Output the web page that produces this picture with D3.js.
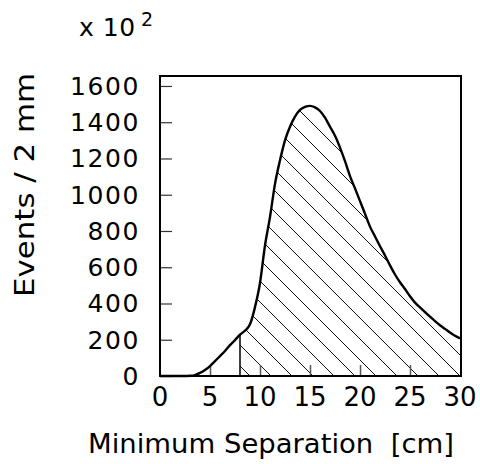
<!DOCTYPE html>
<html>
<head>
<meta charset="utf-8">
<script src="https://cdn.jsdelivr.net/npm/d3@7"></script>
<style>
  html, body { margin: 0; padding: 0; background: #fff; }
  svg { display: block; }
  text { font-family: "DejaVu Sans", sans-serif; fill: #000; }
</style>
</head>
<body>
<svg id="chart" width="480" height="464"></svg>
<script>
// Minimum separation (cm), sampled every 0.5 cm
const separation = [0,0.5,1,1.5,2,2.5,3,3.5,4,4.5,5,5.5,6,6.5,7,7.5,8,8.5,9,9.5,10,
  10.5,11,11.5,12,12.5,13,13.5,14,14.5,15,15.5,16,16.5,17,17.5,18,18.5,19,19.5,20,
  20.5,21,21.5,22,22.5,23,23.5,24,24.5,25,25.5,26,26.5,27,27.5,28,28.5,29,29.5,30];
// Events / 2 mm (in units of 10^2)
const events = [0,0,0,0,0,0,1,5,17,33,55,82,110,138,170,198,228,250,285,380,513,
  720,877,1060,1190,1300,1375,1431,1468,1485,1490,1482,1462,1425,1375,1325,1260,1185,1103,1035,965,
  895,824,770,716,665,610,560,517,480,440,405,378,352,327,303,280,260,240,222,208];
const xTicks = [0,5,10,15,20,25,30];
const yTicks = [0,200,400,600,800,1000,1200,1400,1600];
const cutValue = 8;
const xTitle = "Minimum Separation\u00a0\u00a0[cm]";
const yTitle = "Events / 2 mm";

const data = separation.map((s, i) => ({x: s, y: events[i]}));

const svg = d3.select("#chart");
const x = d3.scaleLinear().domain([0, 30]).range([160, 460]);
const y = d3.scaleLinear().domain([0, 1655]).range([376, 76]);

// hatched region (x >= cut)
const hatchData = data.filter(d => d.x >= cutValue);
const area = d3.area().x(d => x(d.x)).y0(y(0)).y1(d => y(d.y)).curve(d3.curveMonotoneX);
svg.append("clipPath").attr("id", "hclip").append("path").attr("d", area(hatchData));
const hg = svg.append("g").attr("clip-path", "url(#hclip)");
const spacing = 21;
const start = 250 - spacing * 20;
for (let k = 0; k < 50; k++) {
  const xb = start + k * spacing;
  hg.append("line")
    .attr("x1", xb - 320).attr("y1", y(0) - 320)
    .attr("x2", xb).attr("y2", y(0))
    .attr("stroke", "#111").attr("stroke-width", 1);
}

// cut line
const cutPoint = data.find(d => d.x === cutValue);
svg.append("line")
  .attr("x1", x(cutValue)).attr("x2", x(cutValue))
  .attr("y1", y(0)).attr("y2", y(cutPoint.y))
  .attr("stroke", "#000").attr("stroke-width", 1.5);

// ticks
const yAxis = d3.axisLeft(y).tickValues(yTicks).tickSize(-12).tickFormat("").tickSizeOuter(0);
const ya = svg.append("g").attr("transform", `translate(${x(0)},0)`).call(yAxis);
ya.select(".domain").remove();
ya.selectAll(".tick line").attr("stroke", "#333").attr("stroke-width", 1.2);

const xAxis = d3.axisBottom(x).tickValues(xTicks.filter(v => v > 0 && v < 30)).tickSize(-11).tickFormat("").tickSizeOuter(0);
const xa = svg.append("g").attr("transform", `translate(0,${y(0)})`).call(xAxis);
xa.select(".domain").remove();
xa.selectAll(".tick line").attr("stroke", "#555").attr("stroke-width", 1.5);

// curve
const line = d3.line().x(d => x(d.x)).y(d => y(d.y)).curve(d3.curveMonotoneX);
svg.append("path").attr("d", line(data))
  .attr("fill", "none").attr("stroke", "#000").attr("stroke-width", 2.4)
  .attr("stroke-linejoin", "round");

// frame
svg.append("rect")
  .attr("x", x(0)).attr("y", y.range()[1])
  .attr("width", x(30) - x(0) + 1).attr("height", y(0) - y.range()[1])
  .attr("fill", "none").attr("stroke", "#000").attr("stroke-width", 2);

// tick labels
svg.append("g").selectAll("text").data(yTicks).join("text")
  .attr("x", 140).attr("y", d => y(d) + 9)
  .attr("text-anchor", "end").attr("font-size", 25)
  .attr("letter-spacing", 1.6)
  .text(d => d);

svg.append("g").selectAll("text").data(xTicks).join("text")
  .attr("x", d => x(d)).attr("y", 406)
  .attr("text-anchor", "middle").attr("font-size", 26)
  .text(d => d);

// exponent label
svg.append("text").attr("x", 79).attr("y", 36).attr("font-size", 25)
  .attr("letter-spacing", 0.5).text("x 10");
svg.append("text").attr("x", 141).attr("y", 26).attr("font-size", 19).text("2");

// titles
svg.append("text")
  .attr("transform", `translate(34,185) rotate(-90)`)
  .attr("text-anchor", "middle").attr("font-size", 26)
  .attr("textLength", 224).attr("lengthAdjust", "spacingAndGlyphs")
  .text(yTitle);

svg.append("text")
  .attr("x", 271).attr("y", 453)
  .attr("text-anchor", "middle").attr("font-size", 26)
  .attr("textLength", 366).attr("lengthAdjust", "spacingAndGlyphs")
  .text(xTitle);
</script>
</body>
</html>
